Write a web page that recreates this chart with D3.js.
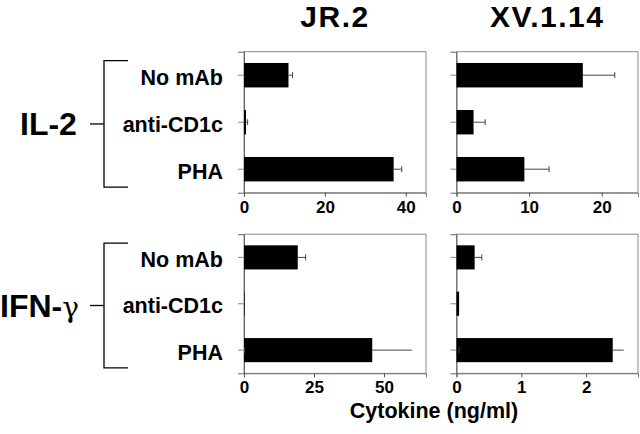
<!DOCTYPE html>
<html>
<head>
<meta charset="utf-8">
<script src="https://cdn.jsdelivr.net/npm/d3@7"></script>
<style>
  body { margin: 0; background: #fff; }
  svg text { font-family: "Liberation Sans", Arial, sans-serif; font-weight: bold; }
</style>
</head>
<body>
<div id="chart"></div>
<script>
// data (ng/ml)
var categories = ["No mAb", "anti-CD1c", "PHA"];
var cytokines = ["IL-2", "IFN-"];
var clones = ["JR.2", "XV.1.14"];

var il2JR = [11, 0.5, 37],       il2JRErr = [1, 0.4, 2];
var il2XV = [17.4, 2.35, 9.35],  il2XVErr = [4.4, 1.6, 3.4];
var ifnJR = [19.2, 0.2, 45.8],   ifnJRErr = [2.8, 0, 14.2];
var ifnXV = [0.28, 0.04, 2.41],  ifnXVErr = [0.11, 0, 0.17];

var il2JRTicks = [0, 20, 40], il2XVTicks = [0, 10, 20];
var ifnJRTicks = [0, 25, 50], ifnXVTicks = [0, 1, 2];
var maxes = [[45, 25], [65, 2.8]];

var width = 640, height = 434;

var svg = d3.select("#chart").append("svg")
    .attr("width", width)
    .attr("height", height);

var colX = [[244, 426], [456.5, 638]];  // panel x extents
var rowY = [[51.7, 192.7], [234.2, 373.3]]; // panel y extents

var panels = [
  {r: 0, c: 0, vals: il2JR, errs: il2JRErr, ticks: il2JRTicks},
  {r: 0, c: 1, vals: il2XV, errs: il2XVErr, ticks: il2XVTicks},
  {r: 1, c: 0, vals: ifnJR, errs: ifnJRErr, ticks: ifnJRTicks},
  {r: 1, c: 1, vals: ifnXV, errs: ifnXVErr, ticks: ifnXVTicks}
];

panels.forEach(function(p){
  var x = d3.scaleLinear().domain([0, maxes[p.r][p.c]]).range(colX[p.c]);
  var y = d3.scaleBand().domain(categories).range(rowY[p.r])
      .paddingInner(0.48).paddingOuter(0.24);
  var g = svg.append("g");

  // frame
  g.append("rect")
    .attr("x", colX[p.c][0]).attr("y", rowY[p.r][0])
    .attr("width", colX[p.c][1] - colX[p.c][0])
    .attr("height", rowY[p.r][1] - rowY[p.r][0])
    .attr("fill", "none").attr("stroke", "#8a8a8a").attr("stroke-width", 1);

  // y ticks (no labels)
  var ya = g.append("g")
    .attr("transform", "translate(" + colX[p.c][0] + ",0)")
    .call(d3.axisLeft(y).tickSize(6).tickFormat(""));
  ya.select(".domain").attr("stroke", "#666");
  ya.selectAll(".tick line").attr("stroke", "#888");

  // x axis
  var xa = g.append("g")
    .attr("transform", "translate(0," + rowY[p.r][1] + ")")
    .call(d3.axisBottom(x).tickValues(p.ticks).tickFormat(d3.format("d"))
      .tickSize(4).tickPadding(4));
  xa.select(".domain").attr("stroke", "#777");
  xa.selectAll(".tick line").attr("stroke", "#555");
  xa.selectAll(".tick text")
    .attr("fill", "#000")
    .style("font-size", "17px")
    .style("font-family", "'Liberation Sans', Arial, sans-serif")
    .style("font-weight", "bold");

  // bars
  g.selectAll(".bar").data(categories).enter().append("rect")
    .attr("class", "bar")
    .attr("x", x(0))
    .attr("y", function(d){ return y(d); })
    .attr("width", function(d,i){ return x(p.vals[i]) - x(0); })
    .attr("height", y.bandwidth())
    .attr("fill", "#000");

  // error bars
  var eb = g.selectAll(".err").data(categories).enter().append("g")
    .attr("class", "err")
    .attr("stroke", "#444").attr("stroke-width", 1);
  eb.append("line")
    .attr("x1", function(d,i){ return x(p.vals[i]); })
    .attr("x2", function(d,i){ return x(p.vals[i] + p.errs[i]); })
    .attr("y1", function(d){ return y(d) + y.bandwidth()/2; })
    .attr("y2", function(d){ return y(d) + y.bandwidth()/2; });
  eb.filter(function(d,i){ return p.errs[i] > 0; }).append("line")
    .attr("x1", function(d,i){ return x(p.vals[i] + p.errs[i]); })
    .attr("x2", function(d,i){ return x(p.vals[i] + p.errs[i]); })
    .attr("y1", function(d){ return y(d) + y.bandwidth()/2 - 3; })
    .attr("y2", function(d){ return y(d) + y.bandwidth()/2 + 3; });

  // category labels only on the left column
  if (p.c == 0) {
    g.selectAll(".cat").data(categories).enter().append("text")
      .attr("x", 223)
      .attr("y", function(d){ return y(d) + y.bandwidth()/2 + 2; })
      .attr("dy", "0.35em")
      .attr("text-anchor", "end")
      .style("font-size", "21.5px")
      .text(function(d){ return d; });

    // bracket
    var top = rowY[p.r][0] + 9, bot = rowY[p.r][1] - 5.5, mid = (top + bot)/2;
    var br = g.append("g").attr("stroke", "#000").attr("stroke-width", 1.3).attr("fill", "none");
    br.append("path").attr("d", "M128," + top + "H104V" + bot + "H128");
    br.append("line").attr("x1", 90).attr("x2", 104).attr("y1", mid).attr("y2", mid);

    var lab = g.append("text")
      .attr("x", p.r == 0 ? 20 : 0).attr("y", mid).attr("dy", "0.36em")
      .style("font-size", p.r == 0 ? "32px" : "32px");
    lab.append("tspan").text(cytokines[p.r]);
    if (p.r == 1) {
      lab.append("tspan")
        .style("font-family", "'DejaVu Serif', serif")
        .style("font-weight", "normal")
        .style("font-size", "28px")
        .text("γ");
    }
  }
});

// column titles
svg.selectAll(".title").data(clones).enter().append("text")
  .attr("x", function(d,i){ return (colX[i][0] + colX[i][1])/2; })
  .attr("y", 27)
  .attr("text-anchor", "middle")
  .style("font-size", "30px")
  .style("letter-spacing", "1.5px")
  .text(function(d){ return d; });

// x axis title
svg.append("text")
  .attr("x", 434).attr("y", 418)
  .attr("text-anchor", "middle")
  .style("font-size", "21.5px")
  .text("Cytokine (ng/ml)");
</script>
</body>
</html>
